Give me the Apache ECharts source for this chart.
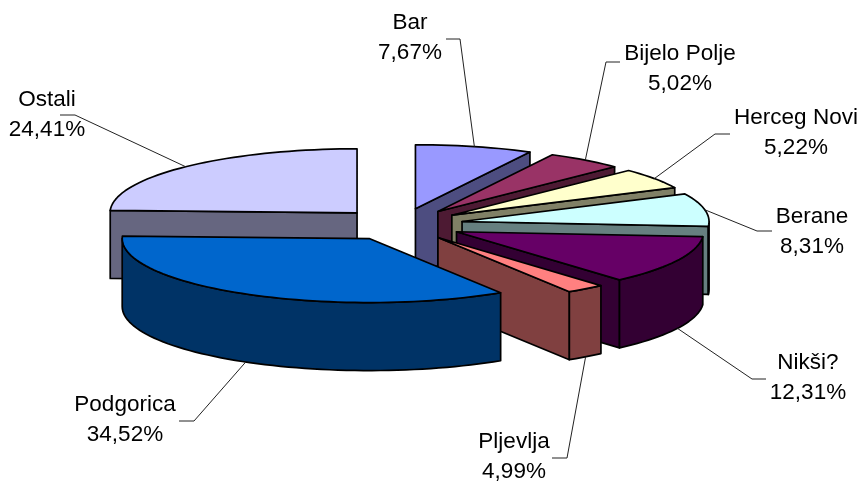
<!DOCTYPE html>
<html><head><meta charset="utf-8">
<style>html,body{margin:0;padding:0;background:#fff}#c{width:860px;height:481px}</style>
<script src="https://cdn.jsdelivr.net/npm/echarts@6/dist/echarts.min.js"></script>
</head><body><div id="c"></div>
<script>
// Data
const names = ['Bar','Bijelo Polje','Herceg Novi','Berane','Nikši?','Pljevlja','Podgorica','Ostali'];
const labelPercents = ['7,67%','5,02%','5,22%','8,31%','12,31%','4,99%','34,52%','24,41%'];
// Wedge sizes as drawn (the Pljevlja wedge is drawn narrower than its printed label)
const wedgePercents = [7.67,5.02,5.22,8.31,12.31,2.54,34.52,24.41];

// Styles
const topColors  = ['#9999FF','#993366','#FFFFCC','#CCFFFF','#660066','#FF8080','#0066CC','#CCCCFF'];
const sideColors = ['#4D4D80','#4D1A33','#808066','#668080','#330033','#804040','#003366','#666680'];
const drawOrder  = [7,0,1,2,3,4,5,6];

// Layout: pie projection, and leader elbow / label placement relative to the canvas
const P = {cx:400.5, cy:224.5, rx:247, ry:64, explode:0.2535, depth:68};
const elbows = [[460,39,446],[606,62,620],[715,134,730],[757,231,772],[752,379,766],[567,458,552],[194,421,179],[75,115,60]];
const labelCenters = [[410,38],[680,69],[796,133],[812,232],[808,378],[514,457],[125,420],[47,115]];

function arcPoint(c,t,dy){return [c[0]+P.rx*Math.sin(t), c[1]-P.ry*Math.cos(t)+(dy||0)];}
function range(a,b){const n=Math.max(2,Math.ceil(Math.abs(b-a)/(Math.PI/90)));const o=[];for(let i=0;i<=n;i++)o.push(a+(b-a)*i/n);return o;}

const total = wedgePercents.reduce((a,b)=>a+b,0);
const starts = []; wedgePercents.reduce((s,v,i)=>{starts[i]=s;return s+v;},0);

function renderItem(params, api){
  const v = api.value(0), i = api.value(1);
  const t0 = starts[i]/total*2*Math.PI, t1 = t0+v/total*2*Math.PI, tm=(t0+t1)/2;
  const c = [P.cx+P.explode*P.rx*Math.sin(tm), P.cy-P.explode*P.ry*Math.cos(tm)];
  const stroke={stroke:'#000',lineWidth:1.7,lineJoin:'round'};
  const kids=[];
  const face=(pts,fill)=>kids.push({type:'polygon',shape:{points:pts},style:Object.assign({fill},stroke)});
  const side=sideColors[i];
  const radial=(t)=>{const p=arcPoint(c,t);return [c,p,[p[0],p[1]+P.depth],[c[0],c[1]+P.depth]];};
  if(Math.sin(t0)<-1e-6) face(radial(t0),side);
  if(Math.sin(t1)>1e-6) face(radial(t1),side);
  // outer wall: only the part of the rim that faces the viewer
  const wa=Math.max(t0,Math.PI/2), wb=Math.min(t1,1.5*Math.PI);
  if(wb>wa){
    const r=range(wa,wb), up=r.map(t=>arcPoint(c,t)), dn=r.slice().reverse().map(t=>arcPoint(c,t,P.depth));
    face(up.concat(dn),side);
  }
  face([c].concat(range(t0,t1).map(t=>arcPoint(c,t))),topColors[i]);
  // leader + label
  const front=Math.cos(tm)<0;
  const a=arcPoint(c,tm,front?P.depth:0), e=elbows[i];
  kids.push({type:'polyline',shape:{points:[a,[e[0],e[1]],[e[2],e[1]]]},style:{fill:null,stroke:'#222',lineWidth:1}});
  kids.push({type:'text',style:{text:names[i]+'\n'+labelPercents[i],x:labelCenters[i][0],y:labelCenters[i][1],
    align:'center',verticalAlign:'middle',textAlign:'center',textVerticalAlign:'middle',
    fontFamily:'"Liberation Sans",Arial,sans-serif',fontSize:22.5,lineHeight:30,fill:'#000'}});
  return {type:'group',children:kids};
}

const chart = echarts.init(document.getElementById('c'),null,{renderer:'canvas'});
chart.setOption({
  animation:false,
  backgroundColor:'#fff',
  series:[{type:'custom',coordinateSystem:'none',renderItem,clip:false,silent:true,
    data:drawOrder.map(i=>({name:names[i],value:[wedgePercents[i],i]}))}]
});
</script></body></html>
